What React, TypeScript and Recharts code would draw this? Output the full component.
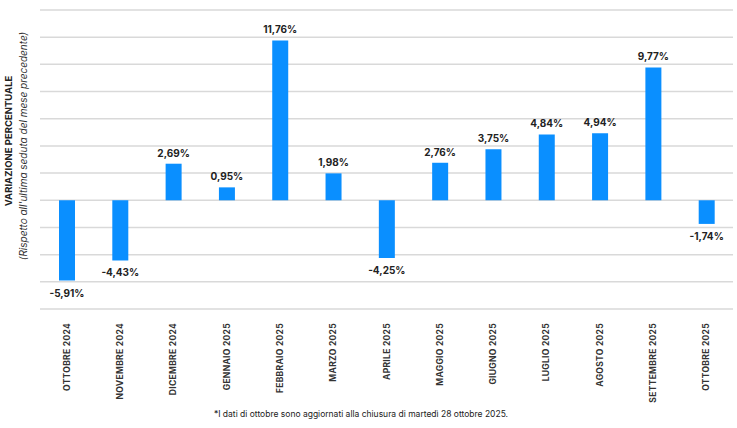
import { BarChart, Bar, XAxis, YAxis, CartesianGrid, LabelList } from 'recharts';

const months = [
  'OTTOBRE 2024',
  'NOVEMBRE 2024',
  'DICEMBRE 2024',
  'GENNAIO 2025',
  'FEBBRAIO 2025',
  'MARZO 2025',
  'APRILE 2025',
  'MAGGIO 2025',
  'GIUGNO 2025',
  'LUGLIO 2025',
  'AGOSTO 2025',
  'SETTEMBRE 2025',
  'OTTOBRE 2025',
];

const variations = [-5.91, -4.43, 2.69, 0.95, 11.76, 1.98, -4.25, 2.76, 3.75, 4.84, 4.94, 9.77, -1.74];

const yTicks = [-8, -6, -4, -2, 0, 2, 4, 6, 8, 10, 12, 14];

const data = months.map((m, i) => ({ month: m, value: variations[i] }));

const FONT = 'Inter, "Noto Sans", sans-serif';

const fmt = (v: number) => `${v.toFixed(2).replace('.', ',')}%`;

function MonthTick({ x, y, payload }: any) {
  return (
    <text
      x={0}
      y={0}
      transform={`translate(${x + 3}, ${y + 6}) rotate(-90)`}
      textAnchor="end"
      fontSize={8.5}
      fontWeight={700}
      fill="#333"
      fontFamily={FONT}
      letterSpacing={0.3}
    >
      {payload.value}
    </text>
  );
}

function ValueLabel({ x, y, width, height, value }: any) {
  const v = Number(value);
  const cx = x + width / 2;
  const top = Math.min(y, y + height);
  const bottom = Math.max(y, y + height);
  const ly = v >= 0 ? top - 7 : bottom + 16;
  return (
    <text x={cx} y={ly} textAnchor="middle" fontSize={10} fontWeight={700} fill="#222" fontFamily={FONT}>
      {fmt(v)}
    </text>
  );
}

export default function App() {
  return (
    <div style={{ position: 'absolute', left: 0, top: 0, width: 737, height: 428, background: '#fff' }}>
      <BarChart
        width={737}
        height={428}
        data={data}
        margin={{ top: 10, right: 4, bottom: 19, left: 40 }}
        barCategoryGap={0}
      >
        <CartesianGrid vertical={false} stroke="#d9d9d9" strokeWidth={1.5} />
        <YAxis hide domain={[-8, 14]} ticks={yTicks} type="number" />
        <XAxis
          dataKey="month"
          height={100}
          interval={0}
          axisLine={false}
          tickLine={false}
          tick={<MonthTick />}
        />
        <Bar dataKey="value" fill="#0a8fff" barSize={16} isAnimationActive={false}>
          <LabelList dataKey="value" content={<ValueLabel />} />
        </Bar>
      </BarChart>
      <svg
        width={737}
        height={428}
        style={{ position: 'absolute', left: 0, top: 0, pointerEvents: 'none' }}
      >
        <text
          transform="translate(8, 141) rotate(-90)"
          textAnchor="middle"
          dominantBaseline="central"
          fontSize={9.5}
          fontWeight={700}
          fill="#222"
          fontFamily={FONT}
        >
          VARIAZIONE PERCENTUALE
        </text>
        <text
          transform="translate(23, 146) rotate(-90)"
          textAnchor="middle"
          dominantBaseline="central"
          fontSize={10}
          fontStyle="italic"
          fill="#333"
          fontFamily={FONT}
        >
          (Rispetto all'ultima seduta del mese precedente)
        </text>
        <text x={361} y={417} textAnchor="middle" fontSize={8.5} fill="#222" fontFamily={FONT}>
          *I dati di ottobre sono aggiornati alla chiusura di martedì 28 ottobre 2025.
        </text>
      </svg>
    </div>
  );
}
